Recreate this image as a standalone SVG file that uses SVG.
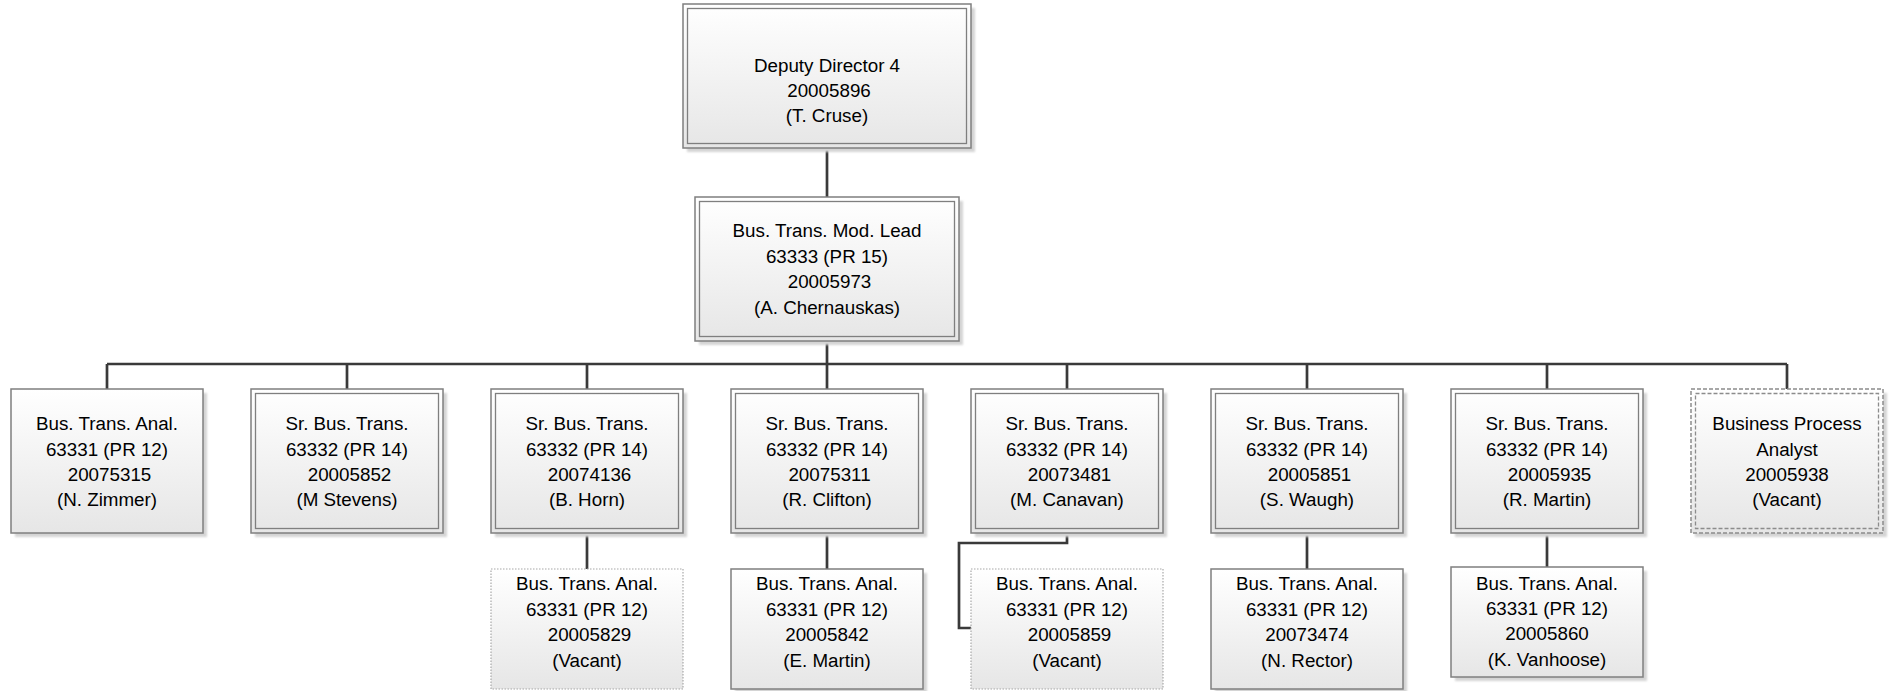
<svg xmlns="http://www.w3.org/2000/svg" width="1892" height="691" viewBox="0 0 1892 691">
<defs>
<linearGradient id="fillG" x1="0" y1="0" x2="0" y2="1">
<stop offset="0" stop-color="#ffffff"/>
<stop offset="1" stop-color="#e6e6e6"/>
</linearGradient>
<filter id="blur" x="-10%" y="-10%" width="120%" height="120%">
<feGaussianBlur stdDeviation="1.2"/>
</filter>
</defs>
<style>
.shadow{fill:#d4d4d4;filter:url(#blur)}
.box{fill:url(#fillG);stroke:#7f7f7f;stroke-width:1.5}
.inner{fill:none;stroke:#7f7f7f;stroke-width:1.3}
.dot{fill:url(#fillG);stroke:#a8a8a8;stroke-width:1.2;stroke-dasharray:1.5 1.5}
.dash{fill:url(#fillG);stroke:#8c8c8c;stroke-width:1.5;stroke-dasharray:4 2}
.dashin{fill:none;stroke:#8c8c8c;stroke-width:1.3;stroke-dasharray:4 2}
.conn{fill:none;stroke:#3a3a3a;stroke-width:2.7}
text{font-family:"Liberation Sans",Arial,sans-serif;font-size:18.8px;fill:#000;text-anchor:middle}
</style>
<rect width="1892" height="691" fill="#ffffff"/>
<g id="connectors">
<path class="conn" d="M827,148 V197"/>
<path class="conn" d="M827,341 V364"/>
<path class="conn" d="M107,364 H1787"/>
<path class="conn" d="M107,364 V389 M347,364 V389 M587,364 V389 M827,364 V389 M1067,364 V389 M1307,364 V389 M1547,364 V389 M1787,364 V389"/>
<path class="conn" d="M587,533 V569 M827,533 V569 M1307,533 V569 M1547,533 V567"/>
<path class="conn" d="M1067,533 V543 H959 V628 H971"/>
</g>
<g id="n-top">
<rect class="shadow" x="687" y="8" width="288" height="144"/>
<rect class="box" x="683" y="4" width="288" height="144"/>
<rect class="inner" x="687.5" y="8.5" width="279" height="135"/>
<text x="827" y="72">Deputy Director 4</text>
<text x="829" y="97">20005896</text>
<text x="827" y="122">(T. Cruse)</text>
</g>
<g id="n-lead">
<rect class="shadow" x="699" y="201" width="264" height="144"/>
<rect class="box" x="695" y="197" width="264" height="144"/>
<rect class="inner" x="699.5" y="201.5" width="255" height="135"/>
<text x="827" y="237">Bus. Trans. Mod. Lead</text>
<text x="827" y="262.5">63333 (PR 15)</text>
<text x="829.5" y="288">20005973</text>
<text x="827" y="313.5">(A. Chernauskas)</text>
</g>
<g id="n-zimmer">
<rect class="shadow" x="15" y="393" width="192" height="144"/>
<rect class="box" x="11" y="389" width="192" height="144"/>
<text x="107" y="430">Bus. Trans. Anal.</text>
<text x="107" y="455.5">63331 (PR 12)</text>
<text x="109.5" y="481">20075315</text>
<text x="107" y="506">(N. Zimmer)</text>
</g>
<g id="n-stevens">
<rect class="shadow" x="255" y="393" width="192" height="144"/>
<rect class="box" x="251" y="389" width="192" height="144"/>
<rect class="inner" x="255.5" y="393.5" width="183" height="135"/>
<text x="347" y="430">Sr. Bus. Trans.</text>
<text x="347" y="455.5">63332 (PR 14)</text>
<text x="349.5" y="481">20005852</text>
<text x="347" y="506">(M Stevens)</text>
</g>
<g id="n-horn">
<rect class="shadow" x="495" y="393" width="192" height="144"/>
<rect class="box" x="491" y="389" width="192" height="144"/>
<rect class="inner" x="495.5" y="393.5" width="183" height="135"/>
<text x="587" y="430">Sr. Bus. Trans.</text>
<text x="587" y="455.5">63332 (PR 14)</text>
<text x="589.5" y="481">20074136</text>
<text x="587" y="506">(B. Horn)</text>
</g>
<g id="n-clifton">
<rect class="shadow" x="735" y="393" width="192" height="144"/>
<rect class="box" x="731" y="389" width="192" height="144"/>
<rect class="inner" x="735.5" y="393.5" width="183" height="135"/>
<text x="827" y="430">Sr. Bus. Trans.</text>
<text x="827" y="455.5">63332 (PR 14)</text>
<text x="829.5" y="481">20075311</text>
<text x="827" y="506">(R. Clifton)</text>
</g>
<g id="n-canavan">
<rect class="shadow" x="975" y="393" width="192" height="144"/>
<rect class="box" x="971" y="389" width="192" height="144"/>
<rect class="inner" x="975.5" y="393.5" width="183" height="135"/>
<text x="1067" y="430">Sr. Bus. Trans.</text>
<text x="1067" y="455.5">63332 (PR 14)</text>
<text x="1069.5" y="481">20073481</text>
<text x="1067" y="506">(M. Canavan)</text>
</g>
<g id="n-waugh">
<rect class="shadow" x="1215" y="393" width="192" height="144"/>
<rect class="box" x="1211" y="389" width="192" height="144"/>
<rect class="inner" x="1215.5" y="393.5" width="183" height="135"/>
<text x="1307" y="430">Sr. Bus. Trans.</text>
<text x="1307" y="455.5">63332 (PR 14)</text>
<text x="1309.5" y="481">20005851</text>
<text x="1307" y="506">(S. Waugh)</text>
</g>
<g id="n-rmartin">
<rect class="shadow" x="1455" y="393" width="192" height="144"/>
<rect class="box" x="1451" y="389" width="192" height="144"/>
<rect class="inner" x="1455.5" y="393.5" width="183" height="135"/>
<text x="1547" y="430">Sr. Bus. Trans.</text>
<text x="1547" y="455.5">63332 (PR 14)</text>
<text x="1549.5" y="481">20005935</text>
<text x="1547" y="506">(R. Martin)</text>
</g>
<g id="n-bpa">
<rect class="shadow" x="1695" y="393" width="192" height="144"/>
<rect class="dash" x="1691" y="389" width="192" height="144"/>
<rect class="dashin" x="1695.5" y="393.5" width="183" height="135"/>
<text x="1787" y="430">Business Process</text>
<text x="1787" y="455.5">Analyst</text>
<text x="1787" y="481">20005938</text>
<text x="1787" y="506">(Vacant)</text>
</g>
<g id="n-vacant1">
<rect class="dot" x="491" y="569" width="192" height="120"/>
<text x="587" y="590">Bus. Trans. Anal.</text>
<text x="587" y="615.5">63331 (PR 12)</text>
<text x="589.5" y="641">20005829</text>
<text x="587" y="666.5">(Vacant)</text>
</g>
<g id="n-emartin">
<rect class="shadow" x="735" y="573" width="192" height="120"/>
<rect class="box" x="731" y="569" width="192" height="120"/>
<text x="827" y="590">Bus. Trans. Anal.</text>
<text x="827" y="615.5">63331 (PR 12)</text>
<text x="827" y="641">20005842</text>
<text x="827" y="666.5">(E. Martin)</text>
</g>
<g id="n-vacant2">
<rect class="dot" x="971" y="569" width="192" height="120"/>
<text x="1067" y="590">Bus. Trans. Anal.</text>
<text x="1067" y="615.5">63331 (PR 12)</text>
<text x="1069.5" y="641">20005859</text>
<text x="1067" y="666.5">(Vacant)</text>
</g>
<g id="n-rector">
<rect class="shadow" x="1215" y="573" width="192" height="120"/>
<rect class="box" x="1211" y="569" width="192" height="120"/>
<text x="1307" y="590">Bus. Trans. Anal.</text>
<text x="1307" y="615.5">63331 (PR 12)</text>
<text x="1307" y="641">20073474</text>
<text x="1307" y="666.5">(N. Rector)</text>
</g>
<g id="n-vanhoose">
<rect class="shadow" x="1455" y="571" width="192" height="110"/>
<rect class="box" x="1451" y="567" width="192" height="110"/>
<text x="1547" y="590">Bus. Trans. Anal.</text>
<text x="1547" y="615">63331 (PR 12)</text>
<text x="1547" y="640">20005860</text>
<text x="1547" y="666">(K. Vanhoose)</text>
</g>
</svg>
